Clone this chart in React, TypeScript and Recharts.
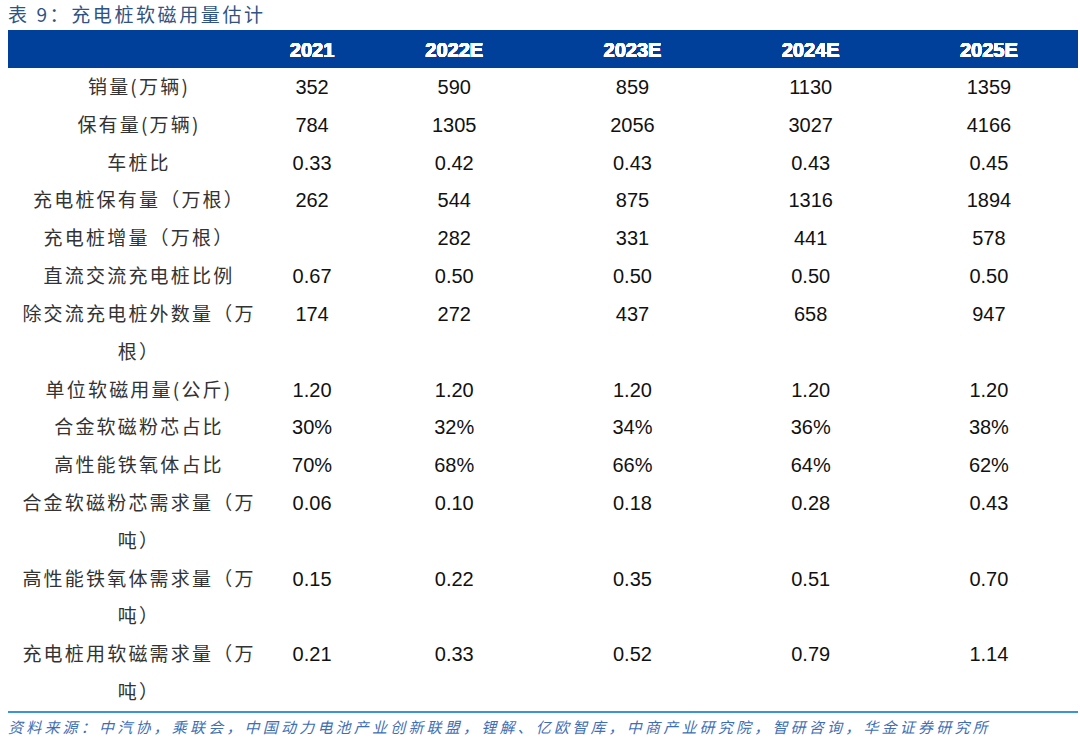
import { ScatterChart, Scatter, XAxis, YAxis } from 'recharts'

// 表 9：充电桩软磁用量估计
const TITLE = '表 9：充电桩软磁用量估计'
const SOURCE =
  '资料来源：中汽协，乘联会，中国动力电池产业创新联盟，锂解、亿欧智库，中商产业研究院，智研咨询，华金证券研究所'

const YEARS = ['2021', '2022E', '2023E', '2024E', '2025E']

// each row label, already split into the lines it wraps to
const ROW_LABELS: string[][] = [
  ['销量(万辆)'],
  ['保有量(万辆)'],
  ['车桩比'],
  ['充电桩保有量（万根）'],
  ['充电桩增量（万根）'],
  ['直流交流充电桩比例'],
  ['除交流充电桩外数量（万', '根）'],
  ['单位软磁用量(公斤)'],
  ['合金软磁粉芯占比'],
  ['高性能铁氧体占比'],
  ['合金软磁粉芯需求量（万', '吨）'],
  ['高性能铁氧体需求量（万', '吨）'],
  ['充电桩用软磁需求量（万', '吨）'],
]

const sales = ['352', '590', '859', '1130', '1359']
const stock = ['784', '1305', '2056', '3027', '4166']
const carPileRatio = ['0.33', '0.42', '0.43', '0.43', '0.45']
const pileStock = ['262', '544', '875', '1316', '1894']
const pileIncrement = ['', '282', '331', '441', '578']
const dcAcRatio = ['0.67', '0.50', '0.50', '0.50', '0.50']
const nonAcPiles = ['174', '272', '437', '658', '947']
const unitUsage = ['1.20', '1.20', '1.20', '1.20', '1.20']
const alloyShare = ['30%', '32%', '34%', '36%', '38%']
const ferriteShare = ['70%', '68%', '66%', '64%', '62%']
const alloyDemand = ['0.06', '0.10', '0.18', '0.28', '0.43']
const ferriteDemand = ['0.15', '0.22', '0.35', '0.51', '0.70']
const totalDemand = ['0.21', '0.33', '0.52', '0.79', '1.14']

const ROW_VALUES = [
  sales,
  stock,
  carPileRatio,
  pileStock,
  pileIncrement,
  dcAcRatio,
  nonAcPiles,
  unitUsage,
  alloyShare,
  ferriteShare,
  alloyDemand,
  ferriteDemand,
  totalDemand,
]

// column widths of the year columns (first one is narrower)
const COL_WIDTHS = [106, 178, 178, 178, 178]

const HEADER_BLUE = '#00409a'
const LABEL_FONT = '"Noto Sans CJK SC", "Noto Sans", sans-serif'
const NUM_FONT = '"Liberation Sans", Arial, sans-serif'

// first line index of every row
const rowStart: number[] = []
let lineCount = 0
ROW_LABELS.forEach((lines) => {
  rowStart.push(lineCount)
  lineCount += lines.length
})

const labelLines: { line: number; text: string }[] = []
ROW_LABELS.forEach((lines, r) =>
  lines.forEach((text, i) => labelLines.push({ line: rowStart[r] + i, text }))
)

const cells = ROW_VALUES.flatMap((values, r) =>
  values
    .map((text, c) => ({ year: YEARS[c], line: rowStart[r], text }))
    .filter((d) => d.text !== '')
)

// piecewise band scale: maps each year to the middle of its column
function columnScale(widths: number[]) {
  let dom: string[] = []
  let rng: number[] = [0, 1]
  const scale: any = (v: string) => {
    const i = dom.indexOf(v)
    if (i < 0) return undefined
    const total = widths.reduce((a, b) => a + b, 0)
    const k = (rng[1] - rng[0]) / total
    let x = rng[0]
    for (let j = 0; j < i; j++) x += widths[j] * k
    return x + (widths[i] * k) / 2
  }
  scale.domain = (d?: string[]) => {
    if (d === undefined) return dom
    dom = [...d]
    return scale
  }
  scale.range = (r?: number[]) => {
    if (r === undefined) return rng
    rng = [...r]
    return scale
  }
  scale.copy = () => columnScale(widths).domain(dom).range(rng)
  return scale
}

const HeaderTick = (props: any) => {
  const { x, y, payload } = props
  return (
    <text
      x={x}
      y={y}
      dy={-3}
      textAnchor="middle"
      fill="#fff"
      fontFamily={NUM_FONT}
      fontWeight={700}
      fontSize={20}
    >
      {payload.value}
    </text>
  )
}

const LabelTick = (props: any) => {
  const { y, payload } = props
  const item = labelLines.find((d) => d.line === payload.value)
  return (
    <text
      x={139}
      y={y}
      dy={7}
      textAnchor="middle"
      fill="#333"
      fontFamily={LABEL_FONT}
      fontSize={19}
      letterSpacing={2.2}
    >
      {item ? item.text : ''}
    </text>
  )
}

const CellText = (props: any) => {
  const { cx, cy, payload } = props
  return (
    <text
      x={cx}
      y={cy}
      dy={7}
      textAnchor="middle"
      fill="#111"
      fontFamily={NUM_FONT}
      fontSize={20}
    >
      {payload.text}
    </text>
  )
}

export default function App() {
  return (
    <div
      style={{
        position: 'absolute',
        left: 0,
        top: 0,
        width: 1080,
        height: 737,
        background: '#fff',
        overflow: 'hidden',
      }}
    >
      <div
        style={{
          position: 'absolute',
          left: 8,
          top: 2,
          fontFamily: LABEL_FONT,
          fontSize: 19,
          letterSpacing: 2.6,
          color: '#2f5484',
          lineHeight: '24px',
        }}
      >
        {TITLE}
      </div>
      <div
        style={{
          position: 'absolute',
          left: 8,
          top: 30,
          width: 1070,
          height: 38,
          background: HEADER_BLUE,
        }}
      />
      <div style={{ position: 'absolute', left: 0, top: 0 }}>
        <ScatterChart
          width={1080}
          height={737}
          margin={{ top: 30, right: 2, bottom: 26, left: 8 }}
        >
          <XAxis
            xAxisId="cols"
            dataKey="year"
            type="category"
            orientation="top"
            allowDuplicatedCategory={false}
            domain={YEARS}
            scale={columnScale(COL_WIDTHS)}
            height={38}
            axisLine={false}
            tickLine={false}
            tick={<HeaderTick />}
            interval={0}
          />
          <YAxis
            yAxisId="lines"
            dataKey="line"
            type="number"
            domain={[-0.5, lineCount - 0.5]}
            reversed
            ticks={labelLines.map((d) => d.line)}
            interval={0}
            width={251}
            axisLine={false}
            tickLine={false}
            tick={<LabelTick />}
          />
          <Scatter
            xAxisId="cols"
            yAxisId="lines"
            data={cells}
            shape={<CellText />}
            isAnimationActive={false}
          />
        </ScatterChart>
      </div>
      <div
        style={{
          position: 'absolute',
          left: 8,
          top: 711,
          width: 1070,
          height: 2,
          background: '#3a93dc',
        }}
      />
      <div
        style={{
          position: 'absolute',
          left: 8,
          top: 717,
          fontFamily: LABEL_FONT,
          fontSize: 15,
          fontStyle: 'italic',
          letterSpacing: 3.2,
          color: '#3f6fb3',
          lineHeight: '19px',
          whiteSpace: 'nowrap',
        }}
      >
        {SOURCE}
      </div>
    </div>
  )
}
